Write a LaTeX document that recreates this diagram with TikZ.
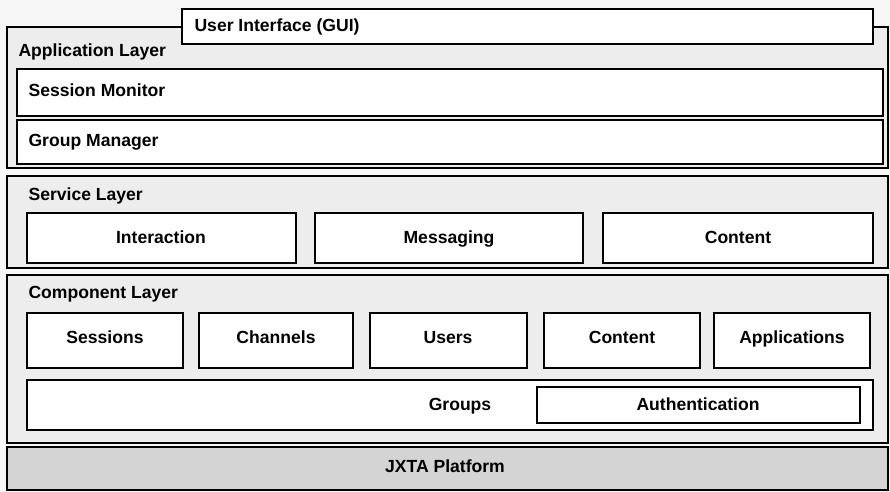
\documentclass[tikz,border=0pt]{standalone}
\usepackage{fontspec}
\setmainfont{Liberation Sans}
\begin{document}
\begin{tikzpicture}[thick, every node/.style={font=\bfseries\fontsize{10}{12}\selectfont, text height=1.6ex, text depth=.45ex},
  layer/.style={draw, line width=1.1pt, fill=gray!14},
  blk/.style={draw, line width=1.1pt, fill=white}]
  \begin{scope}[x=0.02cm, y=-0.02cm]
    % 0. background and page size
    \fill[gray!6] (0,0) rectangle (890,492);
    \useasboundingbox (0,0) rectangle (890,492);

    % ================= Application layer =================
    \draw[layer] (7,27) rectangle (888,168);
    \node[anchor=west] (applbl) at (12,51) {Application Layer};
    \draw[blk] (182,9) rectangle (873,44);
    \node[anchor=west] (gui) at (188,26) {User Interface (GUI)};
    \draw[blk] (17,69) rectangle (883,116);
    \node[anchor=west] (sesmon) at (22,91) {Session Monitor};
    \draw[blk] (17,120) rectangle (883,164);
    \node[anchor=west] (grpmgr) at (22,141) {Group Manager};

    % ================= Service layer =================
    \draw[layer] (7,176) rectangle (888,268);
    \node[anchor=west] (svclbl) at (22,195) {Service Layer};
    \draw[blk] (27,213) rectangle (296,263);
    \node (interact) at (161,238) {Interaction};
    \draw[blk] (315,213) rectangle (583,263);
    \node (msging) at (449,238) {Messaging};
    \draw[blk] (603,213) rectangle (873,263);
    \node (svccont) at (738,238) {Content};

    % ================= Component layer =================
    \draw[layer] (7,275) rectangle (888,443);
    \node[anchor=west] (complbl) at (22,293) {Component Layer};
    \draw[blk] (27,313) rectangle (183,368);
    \node (sessions) at (105,338) {Sessions};
    \draw[blk] (199,313) rectangle (353,368);
    \node (channels) at (276,338) {Channels};
    \draw[blk] (370,313) rectangle (527,368);
    \node (users) at (448,338) {Users};
    \draw[blk] (544,313) rectangle (700,368);
    \node (compcont) at (622,338) {Content};
    \draw[blk] (714,313) rectangle (870,368);
    \node (apps) at (792,338) {Applications};
    % groups bar with authentication inside
    \draw[blk] (27,380) rectangle (873,430);
    \node (groups) at (460,405) {Groups};
    \draw[blk] (537,387) rectangle (860,423);
    \node (auth) at (698,405) {Authentication};

    % ================= JXTA platform =================
    \draw[layer, fill=gray!34] (7,447) rectangle (888,490);
    \node (jxta) at (445,467) {JXTA Platform};
  \end{scope}
\end{tikzpicture}
\end{document}
